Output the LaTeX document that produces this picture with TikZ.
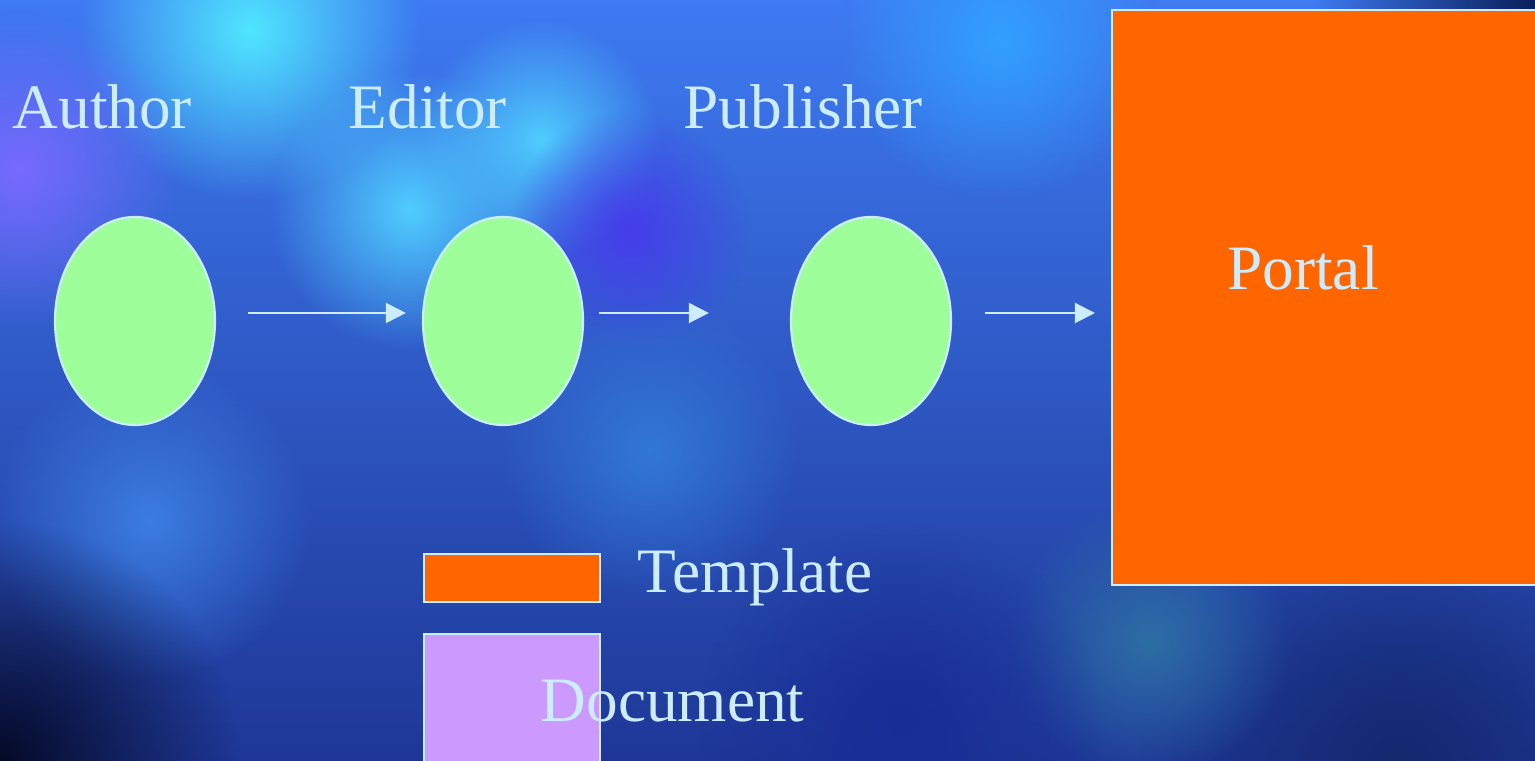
\documentclass[tikz,border=0pt]{standalone}
\usepackage{fontspec}
\setmainfont{Liberation Serif}
\usetikzlibrary{shapes.geometric,arrows.meta,fadings}
\definecolor{pale}{RGB}{204,236,255}
\definecolor{leaf}{RGB}{158,255,154}
\definecolor{tangerine}{RGB}{255,102,0}
\definecolor{lilac}{RGB}{204,153,255}
\definecolor{skytop}{RGB}{62,122,242}
\definecolor{skymid}{RGB}{45,102,226}
\definecolor{skylow}{RGB}{30,55,150}
\tikzfading[name=softglow,inner color=transparent!0,outer color=transparent!100]
\begin{document}
\begin{tikzpicture}[x=0.01cm,y=-0.01cm,
	lbl/.style={text=pale,font=\fontsize{18}{20}\selectfont,inner sep=0pt},
	role/.style={ellipse,draw=pale,line width=0.6pt,fill=leaf,minimum width=1.6cm,minimum height=2.08cm,inner sep=0pt},
	block/.style={draw=pale,line width=0.6pt,inner sep=0pt},
	flow/.style={draw=pale,line width=0.6pt,-{Triangle[length=0.2cm,width=0.2cm]}},
	glow/.style={path fading=softglow}]
	% sky
	\clip (0,0) rectangle (1535,761);
	\shade[top color=skytop,middle color=skymid,bottom color=skylow] (0,0) rectangle (1535,761);
	\fill[glow,color={rgb,255:red,80;green,230;blue,255}] (250,30) circle (1.7cm);
	\fill[glow,color={rgb,255:red,80;green,205;blue,255}] (410,210) circle (1.4cm);
	\fill[glow,color={rgb,255:red,80;green,205;blue,255}] (540,140) circle (1.2cm);
	\fill[glow,color={rgb,255:red,120;green,105;blue,255}] (20,170) circle (1.6cm);
	\fill[glow,color={rgb,255:red,70;green,60;blue,235}] (630,230) circle (1.2cm);
	\fill[glow,color={rgb,255:red,50;green,160;blue,255}] (1000,40) circle (1.6cm);
	\fill[glow,color={rgb,255:red,60;green,125;blue,225}] (150,520) circle (1.6cm);
	\fill[glow,color={rgb,255:red,50;green,120;blue,215}] (650,450) circle (1.5cm);
	\fill[glow,color={rgb,255:red,10;green,30;blue,90}] (1535,0) circle (2.2cm);
	\fill[glow,color={rgb,255:red,5;green,10;blue,40}] (0,761) circle (2.4cm);
	\fill[glow,color={rgb,255:red,20;green,40;blue,110}] (1400,761) circle (2.6cm);
	\fill[glow,color={rgb,255:red,45;green,110;blue,165}] (1150,640) circle (1.4cm);
	\fill[glow,color={rgb,255:red,25;green,45;blue,150}] (900,720) circle (2cm);
	% workflow
	\node[role] (author) at (135,321) {};
	\node[role] (editor) at (503,321) {};
	\node[role] (publisher) at (871,321) {};
	\node[block,fill=tangerine,minimum width=4.5cm,minimum height=5.75cm,anchor=north west] (portal) at (1111,9) {};
	\node[lbl,anchor=base west] (authorlbl) at (12,129) {Author};
	\node[lbl,anchor=base west] (editorlbl) at (348,129) {Editor};
	\node[lbl,anchor=base west] (publisherlbl) at (683,129) {Publisher};
	\node[lbl,anchor=base] (portallbl) at (1303,290) {Portal};
	\draw[flow,shorten <=0.32cm,shorten >=0.16cm] ([yshift=0.08cm]author.east) -- ([yshift=0.08cm]editor.west);
	\draw[flow,shorten <=0.15cm,shorten >=0.81cm] ([yshift=0.08cm]editor.east) -- ([yshift=0.08cm]publisher.west);
	\draw[flow,shorten <=0.33cm,shorten >=0.16cm] ([yshift=0.08cm]publisher.east) -- ([yshift=0.08cm]publisher.east -| portal.west);
	% key
	\node[block,fill=tangerine,minimum width=1.76cm,minimum height=0.48cm,anchor=north west] (template) at (423,553) {};
	\node[block,fill=lilac,minimum width=1.76cm,minimum height=1.5cm,anchor=north west] (document) at (423,633) {};
	\node[lbl,anchor=base west] (templatelbl) at (637,593) {Template};
	\node[lbl,anchor=base west] (documentlbl) at (540,722) {Document};
\end{tikzpicture}
\end{document}
